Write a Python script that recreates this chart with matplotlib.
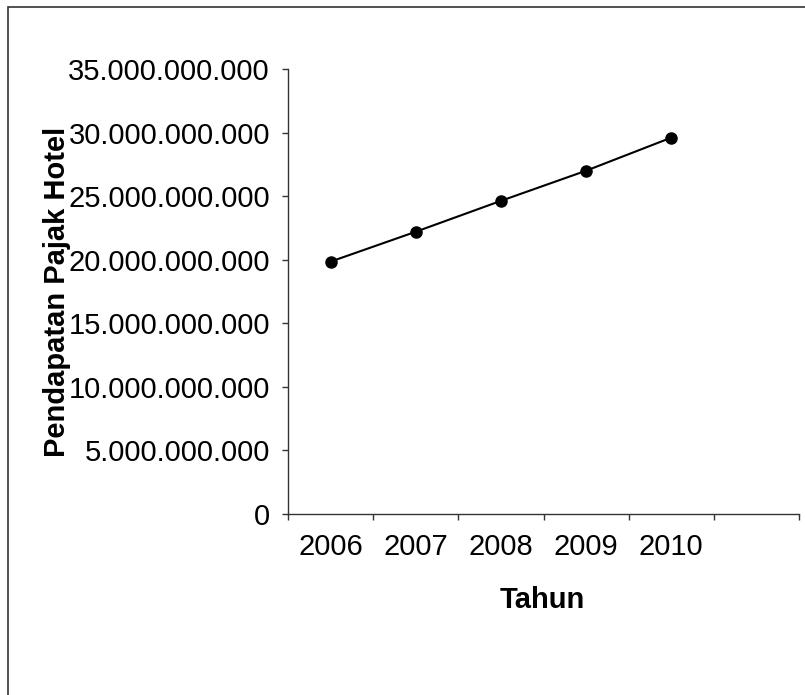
import matplotlib
matplotlib.use("Agg")
import numpy as np
from matplotlib import pyplot as plt
from matplotlib.patches import Rectangle
from matplotlib.ticker import FuncFormatter, FixedLocator

# data
years = ["2006", "2007", "2008", "2009", "2010"]
pajak_hotel = [19.85e9, 22.2e9, 24.63e9, 27.0e9, 29.6e9]
n_slots = 6  # category axis has one empty slot at the end

plt.rcParams['font.family'] = ['Liberation Sans', 'DejaVu Sans']

fig = plt.figure(figsize=(8.05, 6.95), dpi=100)
W, H = 805, 695
ax = fig.add_axes([288 / W, (H - 514) / H, (799 - 288) / W, (514 - 69) / H])

# outer chart frame (runs off the right and bottom of the picture)
fig.patches.append(Rectangle((8 / W, -0.2), 1.5, (H - 7) / H + 0.2,
                             transform=fig.transFigure, fill=False,
                             edgecolor="#333333", linewidth=1.2))

x = np.arange(len(years)) + 0.5
ax.plot(x, pajak_hotel, "-o", color="black", lw=1.5, ms=8)

ax.set_xlim(0, n_slots)
ax.set_ylim(0, 35e9)
ax.set_yticks(np.arange(0, 35e9 + 1, 5e9))
ax.yaxis.set_major_formatter(FuncFormatter(lambda v, p: f"{int(round(v)):,}".replace(",", ".")))

ax.xaxis.set_major_locator(FixedLocator(np.arange(n_slots + 1)))
ax.xaxis.set_major_formatter(FuncFormatter(lambda v, p: ""))
ax.xaxis.set_minor_locator(FixedLocator(x))
ax.set_xticklabels(years, minor=True)

ax.tick_params(axis="y", direction="out", length=4, width=1, pad=9, labelsize=21, color="#333333")
ax.tick_params(axis="x", which="major", direction="out", length=4.5, width=1, color="#333333")
ax.tick_params(axis="x", which="minor", length=0, pad=14, labelsize=21)

for s in ["top", "right"]:
    ax.spines[s].set_visible(False)
for s in ["left", "bottom"]:
    ax.spines[s].set_color("#333333")
    ax.spines[s].set_linewidth(1)

ax.set_ylabel("Pendapatan Pajak Hotel", fontsize=21, fontweight="bold")
ax.yaxis.set_label_coords(-0.425, 0.5)
ax.set_xlabel("Tahun", fontsize=21, fontweight="bold", va="center")
ax.xaxis.set_label_coords(0.497, -0.193)

plt.savefig("out.png", dpi=100)
